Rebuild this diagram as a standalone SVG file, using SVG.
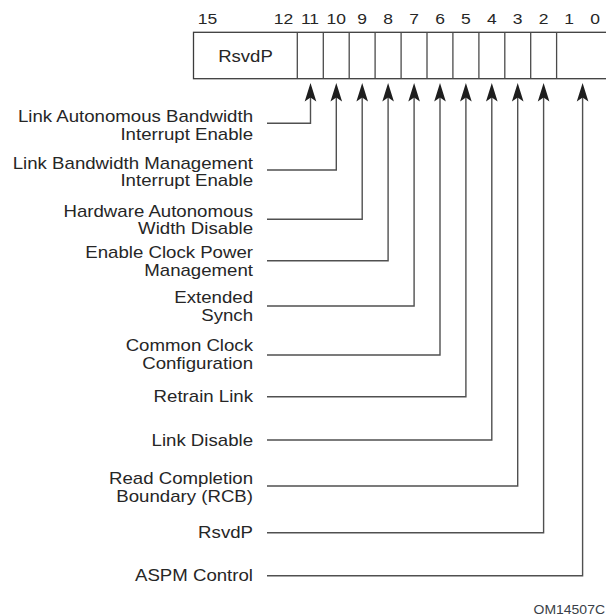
<svg xmlns="http://www.w3.org/2000/svg" xmlns:xlink="http://www.w3.org/1999/xlink" width="606" height="615" viewBox="0 0 606 615">
  <style>
    text { font-family: "Liberation Sans", Arial, Helvetica, sans-serif; fill: #262626; }
    .lbl { font-size: 16px; text-anchor: end; }
    .bitno { font-size: 15px; text-anchor: middle; }
    .field { font-size: 16px; text-anchor: middle; }
    .code { font-size: 12px; text-anchor: end; fill: #3a3f48; }
    .reg { fill: #ffffff; stroke: #3c3c3c; stroke-width: 1.3; }
    .div { stroke: #4a4a4a; stroke-width: 1.3; }
    .wire { fill: none; stroke: #505050; stroke-width: 1.4; }
    .head { fill: #1e1e1e; }
  </style>
  <defs>
    <!-- upward arrowhead, tip at origin -->
    <path id="ah" class="head" d="M0,0 L5.8,18.5 L0,14.5 L-5.8,18.5 Z"/>
  </defs>

  <rect width="606" height="615" fill="#ffffff"/>

  <!-- register with bit numbers -->
  <g id="register">
    <rect class="reg" x="193.5" y="32.3" width="415" height="46.4"/>
    <g class="div">
      <line x1="297.3" y1="32.3" x2="297.3" y2="78.7"/>
      <line x1="323.3" y1="32.3" x2="323.3" y2="78.7"/>
      <line x1="349.2" y1="32.3" x2="349.2" y2="78.7"/>
      <line x1="375.1" y1="32.3" x2="375.1" y2="78.7"/>
      <line x1="401.1" y1="32.3" x2="401.1" y2="78.7"/>
      <line x1="427.0" y1="32.3" x2="427.0" y2="78.7"/>
      <line x1="452.9" y1="32.3" x2="452.9" y2="78.7"/>
      <line x1="478.9" y1="32.3" x2="478.9" y2="78.7"/>
      <line x1="504.8" y1="32.3" x2="504.8" y2="78.7"/>
      <line x1="530.7" y1="32.3" x2="530.7" y2="78.7"/>
      <line x1="556.6" y1="32.3" x2="556.6" y2="78.7"/>
    </g>
    <text class="field" transform="translate(245.5,61.7) scale(1.16,1)">RsvdP</text>
    <g class="bitno">
      <text transform="translate(207.5,24.2) scale(1.165,1)">15</text>
      <text transform="translate(283.5,24.2) scale(1.165,1)">12</text>
      <text transform="translate(310.0,24.2) scale(1.165,1)">11</text>
      <text transform="translate(336.3,24.2) scale(1.165,1)">10</text>
      <text transform="translate(362.2,24.2) scale(1.165,1)">9</text>
      <text transform="translate(388.1,24.2) scale(1.165,1)">8</text>
      <text transform="translate(414.1,24.2) scale(1.165,1)">7</text>
      <text transform="translate(440.0,24.2) scale(1.165,1)">6</text>
      <text transform="translate(465.9,24.2) scale(1.165,1)">5</text>
      <text transform="translate(491.8,24.2) scale(1.165,1)">4</text>
      <text transform="translate(517.7,24.2) scale(1.165,1)">3</text>
      <text transform="translate(543.6,24.2) scale(1.165,1)">2</text>
      <text transform="translate(569.0,24.2) scale(1.165,1)">1</text>
      <text transform="translate(595.0,24.2) scale(1.165,1)">0</text>
    </g>
  </g>

  <!-- leader lines from each label up to its bit -->
  <g id="connectors">
    <polyline class="wire" points="267,123.3 310.5,123.3 310.5,97"/>
    <polyline class="wire" points="267,170 336.3,170 336.3,97"/>
    <polyline class="wire" points="267,219.3 362.2,219.3 362.2,97"/>
    <polyline class="wire" points="267,260.7 388.1,260.7 388.1,97"/>
    <polyline class="wire" points="267,306 414.1,306 414.1,97"/>
    <polyline class="wire" points="267,355 440.0,355 440.0,97"/>
    <polyline class="wire" points="267,396.7 465.9,396.7 465.9,97"/>
    <polyline class="wire" points="267,440 491.8,440 491.8,97"/>
    <polyline class="wire" points="267,486 517.7,486 517.7,97"/>
    <polyline class="wire" points="267,532.7 543.6,532.7 543.6,97"/>
    <polyline class="wire" points="267,575.7 582.6,575.7 582.6,97"/>
    <use xlink:href="#ah" x="310.5" y="83"/>
    <use xlink:href="#ah" x="336.3" y="83"/>
    <use xlink:href="#ah" x="362.2" y="83"/>
    <use xlink:href="#ah" x="388.1" y="83"/>
    <use xlink:href="#ah" x="414.1" y="83"/>
    <use xlink:href="#ah" x="440.0" y="83"/>
    <use xlink:href="#ah" x="465.9" y="83"/>
    <use xlink:href="#ah" x="491.8" y="83"/>
    <use xlink:href="#ah" x="517.7" y="83"/>
    <use xlink:href="#ah" x="543.6" y="83"/>
    <use xlink:href="#ah" x="582.6" y="83"/>
  </g>

  <!-- field descriptions -->
  <g id="bit11">
    <text class="lbl" transform="translate(253,122.3) scale(1.165,1)"><tspan x="0" y="0">Link Autonomous Bandwidth</tspan><tspan x="0" y="17.6">Interrupt Enable</tspan></text>
  </g>
  <g id="bit10">
    <text class="lbl" transform="translate(253,168.7) scale(1.165,1)"><tspan x="0" y="0">Link Bandwidth Management</tspan><tspan x="0" y="17.6">Interrupt Enable</tspan></text>
  </g>
  <g id="bit9">
    <text class="lbl" transform="translate(253,216.6) scale(1.165,1)"><tspan x="0" y="0">Hardware Autonomous</tspan><tspan x="0" y="17.6">Width Disable</tspan></text>
  </g>
  <g id="bit8">
    <text class="lbl" transform="translate(253,258.3) scale(1.165,1)"><tspan x="0" y="0">Enable Clock Power</tspan><tspan x="0" y="17.6">Management</tspan></text>
  </g>
  <g id="bit7">
    <text class="lbl" transform="translate(253,303.3) scale(1.165,1)"><tspan x="0" y="0">Extended</tspan><tspan x="0" y="17.6">Synch</tspan></text>
  </g>
  <g id="bit6">
    <text class="lbl" transform="translate(253,351.2) scale(1.165,1)"><tspan x="0" y="0">Common Clock</tspan><tspan x="0" y="17.6">Configuration</tspan></text>
  </g>
  <g id="bit5">
    <text class="lbl" transform="translate(253,402) scale(1.165,1)">Retrain Link</text>
  </g>
  <g id="bit4">
    <text class="lbl" transform="translate(253,445.6) scale(1.165,1)">Link Disable</text>
  </g>
  <g id="bit3">
    <text class="lbl" transform="translate(253,484) scale(1.165,1)"><tspan x="0" y="0">Read Completion</tspan><tspan x="0" y="17.6">Boundary (RCB)</tspan></text>
  </g>
  <g id="bit2">
    <text class="lbl" transform="translate(253,538.3) scale(1.165,1)">RsvdP</text>
  </g>
  <g id="bits1-0">
    <text class="lbl" transform="translate(253,581) scale(1.165,1)">ASPM Control</text>
  </g>

  <text class="code" transform="translate(605,613.6) scale(1.165,1)">OM14507C</text>
</svg>
